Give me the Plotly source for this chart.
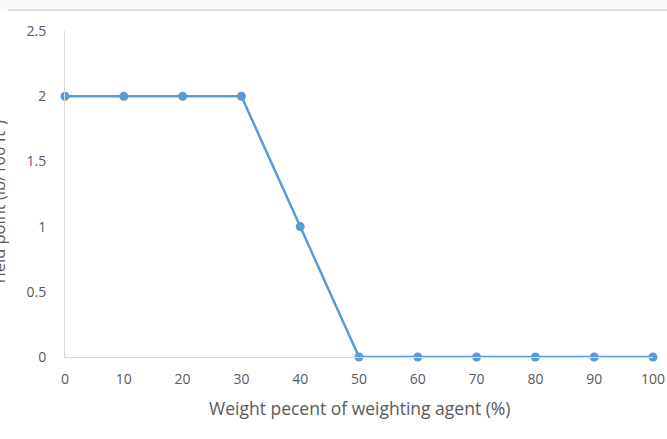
import plotly.graph_objects as go

# Yield point versus weighting agent content
weight_pct = [0, 10, 20, 30, 40, 50, 60, 70, 80, 90, 100]
yield_point = [2, 2, 2, 2, 1, 0, 0, 0, 0, 0, 0]

x_ticks = [0, 10, 20, 30, 40, 50, 60, 70, 80, 90, 100]
y_ticks = [0, 0.5, 1, 1.5, 2, 2.5]
y_tick_text = ["0", "0.5", "1", "1.5", "2", "2.5"]

BLUE = "#5B9BD5"
TEXT = "#595959"
AXIS = "#D9D9D9"
FONT = "Open Sans, Liberation Sans, sans-serif"

fig = go.Figure(
    go.Scatter(
        x=weight_pct,
        y=yield_point,
        mode="lines+markers",
        line=dict(color=BLUE, width=2.5),
        marker=dict(color=BLUE, size=9),
        cliponaxis=False,
        showlegend=False,
    )
)

fig.update_layout(
    width=667,
    height=439,
    margin=dict(l=65, r=14, t=31, b=82),
    paper_bgcolor="white",
    plot_bgcolor="white",
    font=dict(family=FONT, size=14, color=TEXT),
    xaxis=dict(
        range=[0, 100],
        tickvals=x_ticks,
        showgrid=False,
        zeroline=False,
        showline=True,
        linecolor=AXIS,
        linewidth=1,
        ticks="",
        automargin=False,
        ticklabelstandoff=9,
        tickfont=dict(size=14, color=TEXT),
    ),
    yaxis=dict(
        range=[0, 2.5],
        tickvals=y_ticks,
        ticktext=y_tick_text,
        showgrid=False,
        zeroline=False,
        showline=True,
        linecolor=AXIS,
        linewidth=1,
        ticks="",
        automargin=False,
        ticklabelstandoff=15,
        tickfont=dict(size=14, color=TEXT),
    ),
    annotations=[
        dict(
            text="Weight pecent of weighting agent (%)",
            xref="paper",
            yref="paper",
            x=0.5,
            y=-0.156,
            xanchor="center",
            yanchor="middle",
            showarrow=False,
            font=dict(size=17.5, color=TEXT),
        ),
        dict(
            text="Yield point (lb/100 ft²)",
            textangle=-90,
            xref="paper",
            yref="paper",
            x=-0.113,
            y=0.472,
            xanchor="center",
            yanchor="middle",
            showarrow=False,
            font=dict(size=16.5, color=TEXT),
        ),
    ],
    shapes=[
        dict(
            type="rect",
            xref="paper",
            yref="paper",
            x0=-0.12,
            x1=1.03,
            y0=1.067,
            y1=1.12,
            fillcolor="#FAFAFA",
            line=dict(width=0),
            layer="below",
        ),
        dict(
            type="line",
            xref="paper",
            yref="paper",
            x0=-0.097,
            x1=1.03,
            y0=1.0644,
            y1=1.0644,
            line=dict(color="#D9D9D9", width=1.5),
        ),
    ],
)

fig.write_html("out.html")
